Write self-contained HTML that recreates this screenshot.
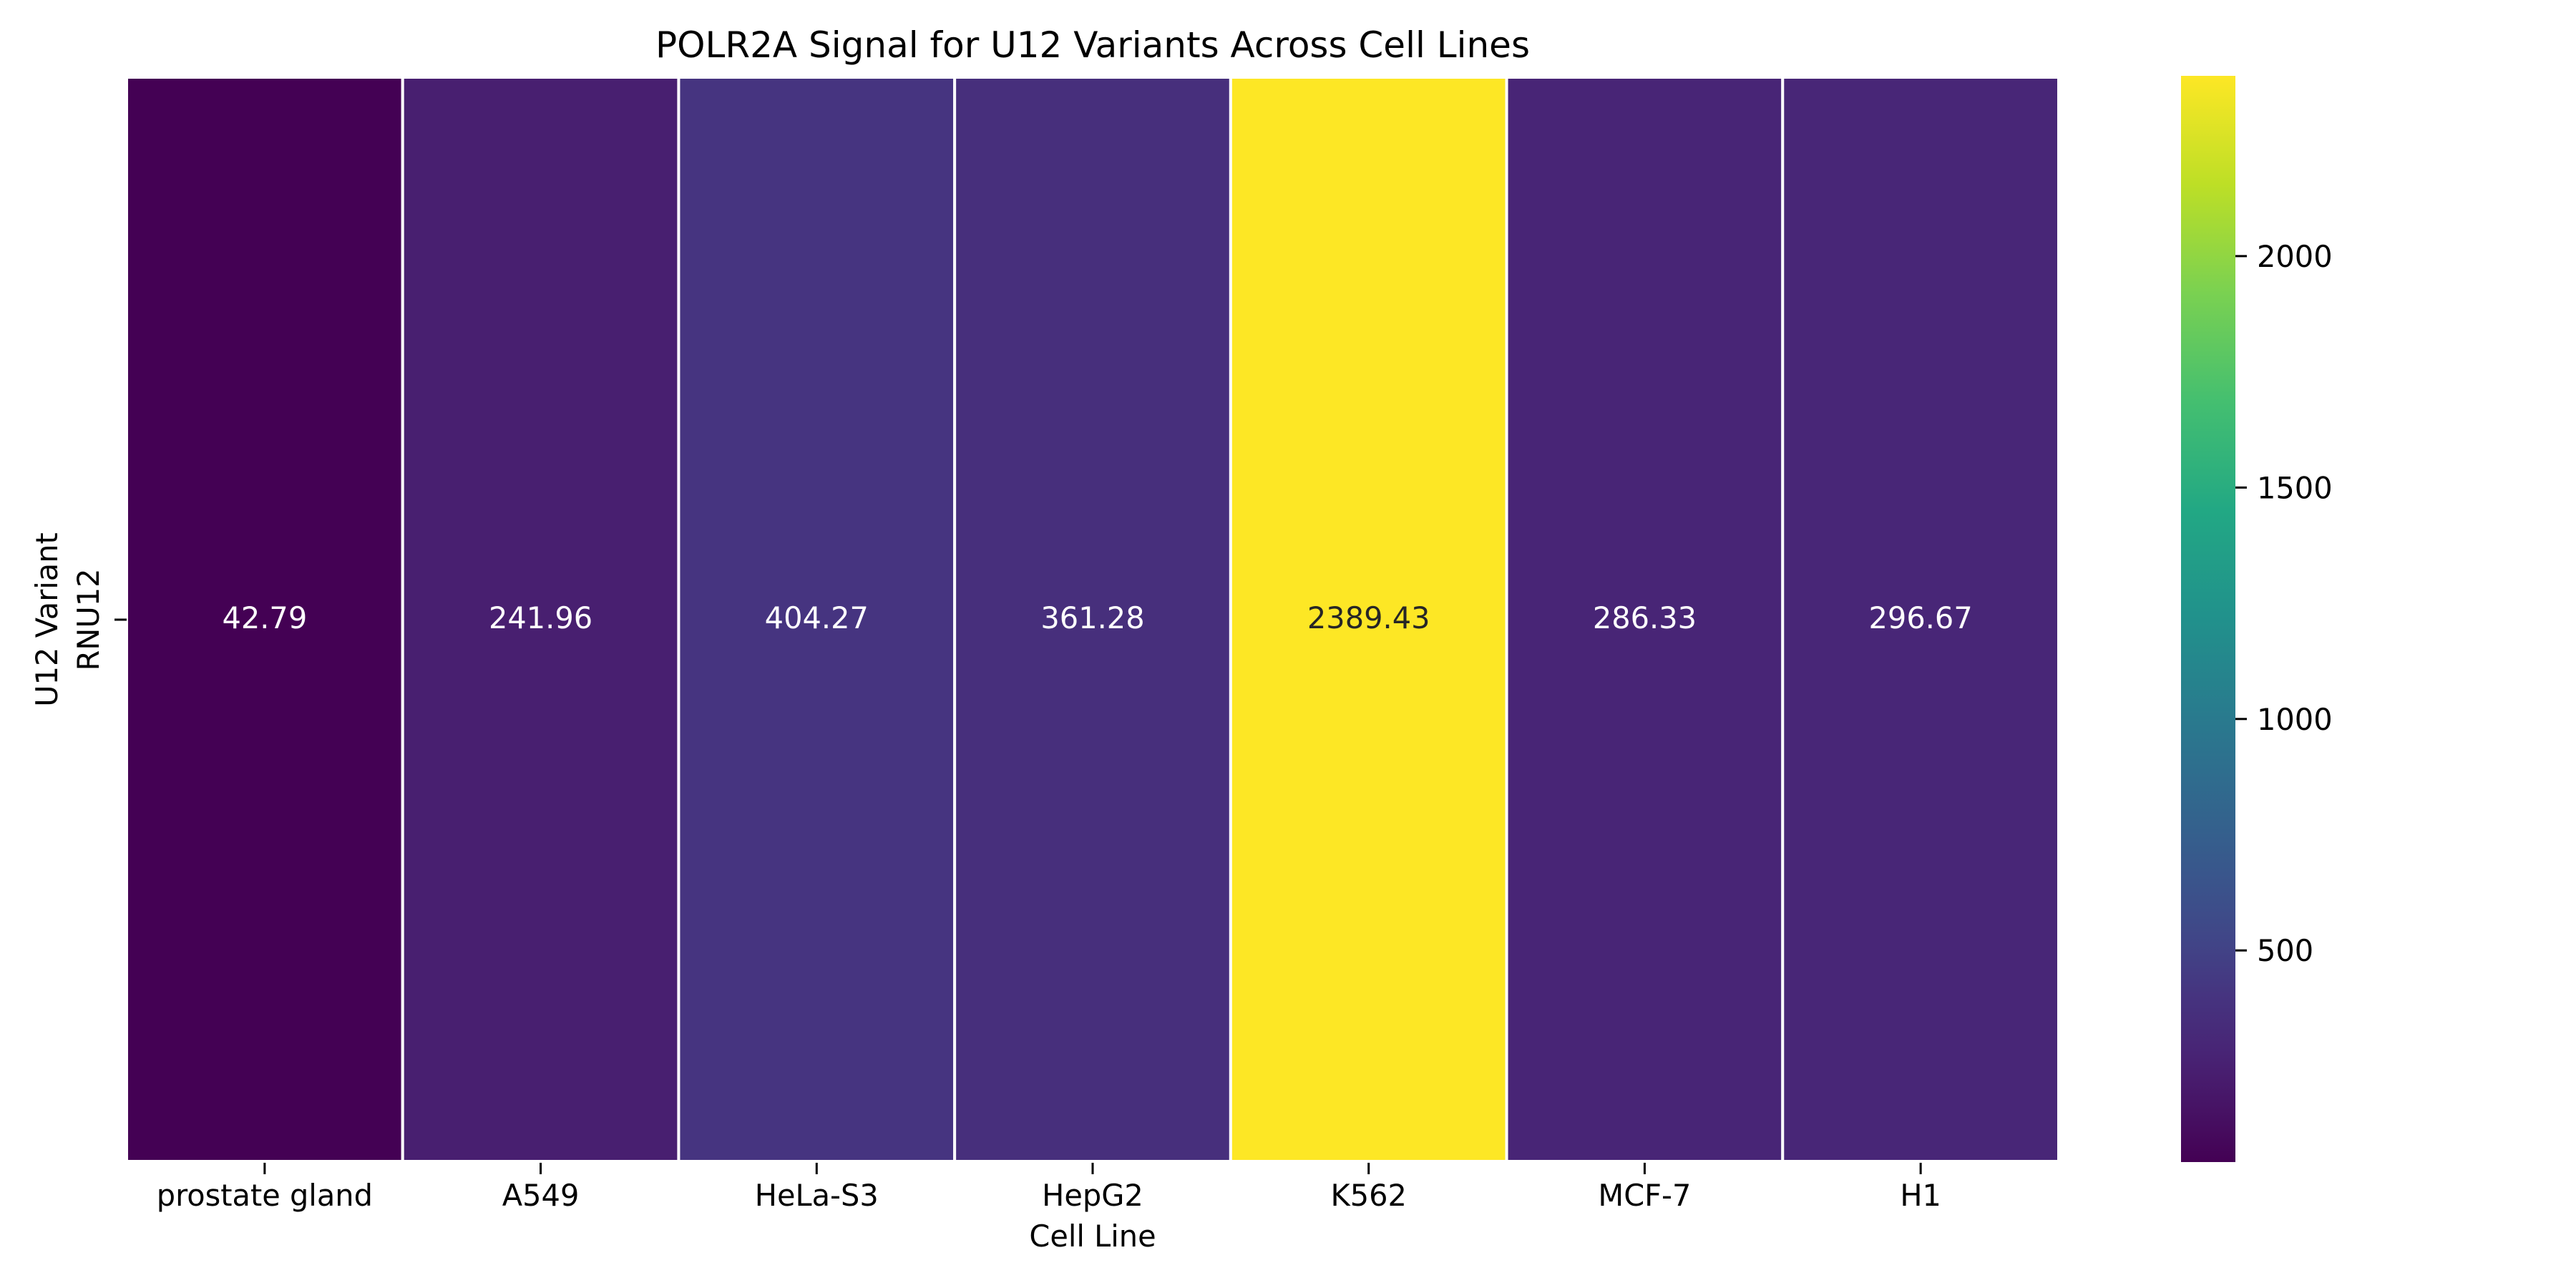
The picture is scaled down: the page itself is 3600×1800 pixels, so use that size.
<!DOCTYPE html>
<html><head><meta charset="utf-8">
<style>
html,body{margin:0;padding:0;background:#fff;}
svg{display:block;font-family:"DejaVu Sans","Liberation Sans",sans-serif;}
</style></head>
<body>
<svg id="chart" width="3600" height="1800" viewBox="0 0 3600 1800" xmlns="http://www.w3.org/2000/svg">
<defs>
<linearGradient id="vir" x1="0" y1="1" x2="0" y2="0">
<stop offset="0" stop-color="#440154"/><stop offset="0.05" stop-color="#471365"/><stop offset="0.1" stop-color="#482475"/><stop offset="0.15" stop-color="#46337f"/><stop offset="0.2" stop-color="#414487"/><stop offset="0.25" stop-color="#3b528b"/><stop offset="0.3" stop-color="#355f8d"/><stop offset="0.4" stop-color="#2a788e"/><stop offset="0.5" stop-color="#21918c"/><stop offset="0.6" stop-color="#22a884"/><stop offset="0.7" stop-color="#44bf70"/><stop offset="0.8" stop-color="#7ad151"/><stop offset="0.9" stop-color="#bddf26"/><stop offset="1" stop-color="#fde725"/>
</linearGradient>
</defs>
<text x="1527" y="80" text-anchor="middle" font-size="50">POLR2A Signal for U12 Variants Across Cell Lines</text>
<g id="cells"></g>
<g id="xticks"></g>
<line x1="160" y1="866" x2="177" y2="866" stroke="#000" stroke-width="3"/>
<text transform="translate(138,866) rotate(-90)" text-anchor="middle" font-size="41.5">RNU12</text>
<text transform="translate(80,866) rotate(-90)" text-anchor="middle" font-size="41.5">U12 Variant</text>
<text x="1527" y="1742" text-anchor="middle" font-size="41.5">Cell Line</text>
<rect x="3048" y="106" width="76" height="1518" fill="url(#vir)"/>
<g id="cbticks"></g>
</svg>
<script>
const categories = ["prostate gland","A549","HeLa-S3","HepG2","K562","MCF-7","H1"];
const values = [42.79,241.96,404.27,361.28,2389.43,286.33,296.67];
const cbTicks = [500,1000,1500,2000];

const NS="http://www.w3.org/2000/svg";
const L=177,R=2877,T=108,B=1623;
const vmin=Math.min(...values), vmax=Math.max(...values);
const cw=(R-L)/categories.length;
function xPos(i){return L+i*cw;}
const cbTop=106,cbBot=1624;
function cbY(v){return cbBot-(v-vmin)/(vmax-vmin)*(cbBot-cbTop);}
const stops=[[0,[68,1,84]],[0.05,[71,19,101]],[0.1,[72,36,117]],[0.15,[70,51,127]],[0.2,[65,68,135]],[0.25,[59,82,139]],[0.3,[53,95,141]],[0.4,[42,120,142]],[0.5,[33,145,140]],[0.6,[34,168,132]],[0.7,[68,191,112]],[0.8,[122,209,81]],[0.9,[189,223,38]],[1,[253,231,37]]];
function viridis(t){t=Math.max(0,Math.min(1,t));for(let k=1;k<stops.length;k++){if(t<=stops[k][0]){const a=stops[k-1],b=stops[k];const f=(t-a[0])/(b[0]-a[0]);const c=a[1].map((x,j)=>Math.round(x+(b[1][j]-x)*f));return "rgb("+c.join(",")+")";}}return "rgb(253,231,37)";}
function mk(tag,attrs,parent){const e=document.createElementNS(NS,tag);for(const k in attrs)e.setAttribute(k,attrs[k]);parent.appendChild(e);return e;}
const cells=document.getElementById("cells"),xt=document.getElementById("xticks"),cbt=document.getElementById("cbticks");
values.forEach((v,i)=>{
  const t=(v-vmin)/(vmax-vmin);
  const r=mk("rect",{x:xPos(i),y:T,width:cw,height:B-T,fill:viridis(t),stroke:"#fff","stroke-width":4},cells);
  
  
  const tx=mk("text",{x:xPos(i)+cw/2,y:878,"text-anchor":"middle","font-size":41.5,fill:t>0.5?"#262626":"#fff"},cells);
  tx.textContent=v.toFixed(2);
  
  
  const tk=mk("line",{x1:xPos(i)+cw/2,y1:B+2,x2:xPos(i)+cw/2,y2:B+18,stroke:"#000","stroke-width":3},xt);
  
  
  const lb=mk("text",{x:xPos(i)+cw/2,y:1685,"text-anchor":"middle","font-size":41.5},xt);
  lb.textContent=categories[i];
  
  
});
cbTicks.forEach(v=>{
  const y=cbY(v);
  const tk=mk("line",{x1:3124,y1:y,x2:3140,y2:y,stroke:"#000","stroke-width":3},cbt);
  
  
  const lb=mk("text",{x:3154,y:y+15,"font-size":41.5},cbt);
  lb.textContent=String(v);
  
  
});
</script>
</body></html>
